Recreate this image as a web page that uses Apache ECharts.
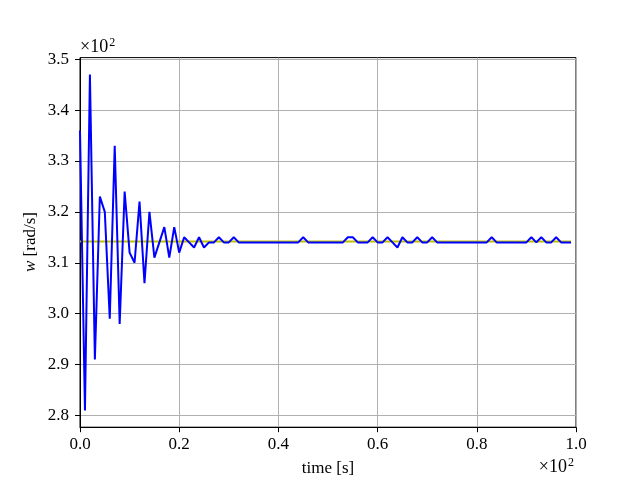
<!DOCTYPE html>
<html>
<head>
<meta charset="utf-8">
<script src="https://cdn.jsdelivr.net/npm/echarts@6/dist/echarts.min.js"></script>
<style>html,body{margin:0;padding:0;background:#fff}#c{width:640px;height:480px}</style>
</head>
<body>
<div id="c"></div>
<script>
// time steps (x) and measured speed w (rad/s), reference speed
const times = [];
for (let i = 0; i < 100; i++) times.push(i);
const wValues = [
  336, 281, 347, 291, 323, 320, 299, 333, 298, 324,
  312, 310, 322, 306, 320, 311, 314, 317, 311, 317,
  312, 315, 314, 313, 315, 313, 314, 314, 315, 314,
  314, 315, 314, 314, 314, 314, 314, 314, 314, 314,
  314, 314, 314, 314, 314, 315, 314, 314, 314, 314,
  314, 314, 314, 314, 315, 315, 314, 314, 314, 315,
  314, 314, 315, 314, 313, 315, 314, 314, 315, 314,
  314, 315, 314, 314, 314, 314, 314, 314, 314, 314,
  314, 314, 314, 315, 314, 314, 314, 314, 314, 314,
  314, 315, 314, 315, 314, 314, 315, 314, 314, 314
];
const wRef = times.map(() => 314.159);
const xTicks = [0, 20, 40, 60, 80, 100];
const yTicks = [280, 290, 300, 310, 320, 330, 340, 350];

const FONT = '"Liberation Serif", "DejaVu Serif", serif';
const sciRich = {
  b: {fontFamily: FONT, fontSize: 18, color: '#000', lineHeight: 20},
  s: {fontFamily: FONT, fontSize: 12, color: '#000', verticalAlign: 'top', lineHeight: 20, padding: [0, 0, 8, 1]}
};
const chart = echarts.init(document.getElementById('c'), null, {renderer: 'canvas'});
chart.setOption({
  animation: false,
  backgroundColor: '#ffffff',
  grid: {left: 80, right: 64, top: 57.6, bottom: 52.8, show: true, borderColor: '#000', borderWidth: 1, backgroundColor: 'transparent'},
  xAxis: {
    type: 'value', min: 0, max: 100, interval: 20,
    axisLine: {show: true, onZero: false, lineStyle: {color: '#000', width: 1}},
    axisTick: {show: true, inside: false, length: 5, customValues: xTicks, lineStyle: {color: '#000', width: 1}},
    axisLabel: {show: true, margin: 9, color: '#000', fontFamily: FONT, fontSize: 17, customValues: xTicks, formatter: v => (v / 100).toFixed(1)},
    splitLine: {show: true, lineStyle: {color: '#b0b0b0', width: 1}}
  },
  yAxis: {
    type: 'value', min: 277.7, max: 350.3,
    axisLine: {show: true, onZero: false, lineStyle: {color: '#000', width: 1}},
    axisTick: {show: true, inside: false, length: 5, customValues: yTicks, lineStyle: {color: '#000', width: 1}},
    axisLabel: {show: true, margin: 11, color: '#000', fontFamily: FONT, fontSize: 17, customValues: yTicks, formatter: v => (v / 100).toFixed(1)},
    splitLine: {show: true, lineStyle: {color: '#b0b0b0', width: 1}}
  },
  series: [
    {type: 'line', data: times.map((t, i) => [t, wRef[i]]), showSymbol: false, lineStyle: {color: '#bfbf00', width: 2}, z: 2},
    {type: 'line', data: times.map((t, i) => [t, wValues[i]]), showSymbol: false, lineStyle: {color: '#0000ff', width: 2}, z: 3}
  ],
  graphic: [
    {type: 'text', left: 80, top: 37, style: {text: '{b|×10}{s|2}', rich: sciRich}},
    {type: 'text', right: 66, top: 457, style: {text: '{b|×10}{s|2}', rich: sciRich}},
    {type: 'text', x: 328, y: 469, style: {text: 'time [s]', font: '17px ' + FONT, fill: '#000', align: 'center', verticalAlign: 'middle'}},
    {type: 'text', x: 31, y: 242, rotation: Math.PI / 2,
      style: {text: '{i|w} [rad/s]', font: '17px ' + FONT, fill: '#000', align: 'center', verticalAlign: 'middle',
        rich: {i: {fontStyle: 'italic', fontFamily: FONT, fontSize: 17}}}}
  ]
});
</script>
</body>
</html>
